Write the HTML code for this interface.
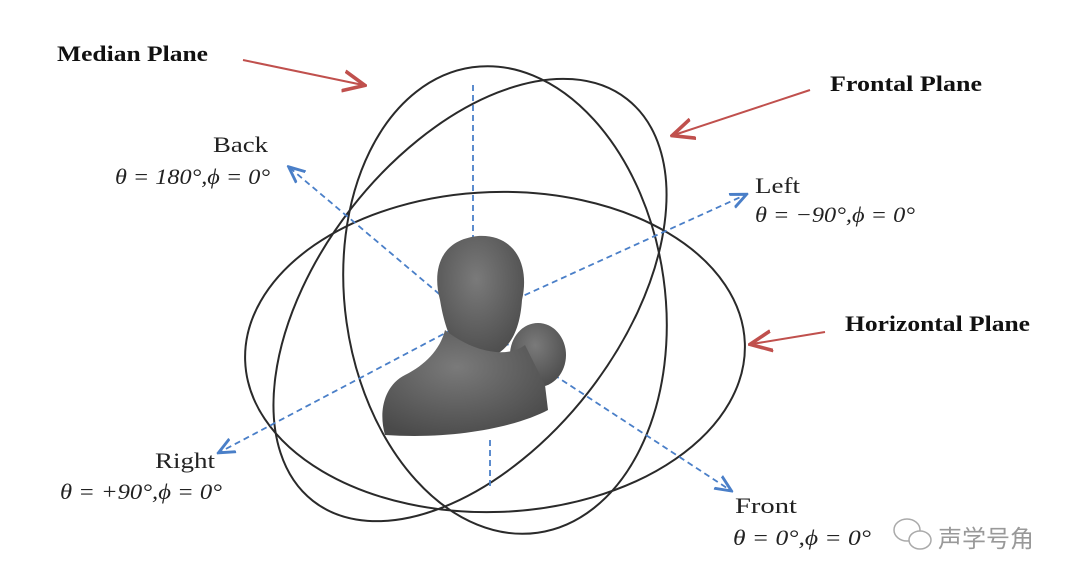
<!DOCTYPE html>
<html><head><meta charset="utf-8"><style>
body{margin:0;background:#fff;width:1080px;height:582px;overflow:hidden;}
svg{display:block}
text{font-family:"Liberation Serif",serif;}
</style></head><body>
<svg width="1080" height="582" viewBox="0 0 1080 582">
<defs>
<marker id="b" markerWidth="10" markerHeight="10" refX="8" refY="5" orient="auto"><path d="M0,1 L9,5 L0,9" fill="none" stroke="#4a7fc8" stroke-width="1.6"/></marker>
<marker id="r" markerWidth="12" markerHeight="12" refX="10" refY="6" orient="auto"><path d="M0,1 L11,6 L0,11" fill="none" stroke="#c0504d" stroke-width="1.8"/></marker>
<radialGradient id="g" cx="0.45" cy="0.35" r="0.7"><stop offset="0" stop-color="#7a7a7a"/><stop offset="1" stop-color="#4a4a4a"/></radialGradient>
</defs>
<g fill="none" stroke="#2a2a2a" stroke-width="2">
<ellipse cx="495" cy="352" rx="250" ry="160" transform="rotate(-2 495 352)"/>
<ellipse cx="505" cy="300" rx="160" ry="235" transform="rotate(-8 505 300)"/>
<ellipse cx="470" cy="300" rx="150" ry="255" transform="rotate(38 470 300)"/>
</g>
<g stroke="#4a7fc8" stroke-width="1.8" stroke-dasharray="6,4" fill="none">
<line x1="473" y1="85" x2="473" y2="240"/>
<line x1="490" y1="440" x2="490" y2="490"/>
<line x1="470" y1="320" x2="290" y2="168" marker-end="url(#b)"/>
<line x1="470" y1="320" x2="745" y2="195" marker-end="url(#b)"/>
<line x1="470" y1="320" x2="220" y2="452" marker-end="url(#b)"/>
<line x1="470" y1="320" x2="730" y2="490" marker-end="url(#b)"/>
</g>
<g fill="url(#g)">
<path d="M440,300 C432,270 440,240 478,236 C515,234 530,265 522,300 C520,330 510,355 480,360 C455,360 445,330 440,300Z"/>
<ellipse cx="538" cy="355" rx="28" ry="32"/>
<path d="M445,330 C470,350 505,360 525,345 L545,385 L548,410 C520,425 460,440 385,435 C378,410 385,385 405,375 C425,365 440,350 445,330Z"/>
</g>
<g stroke="#c0504d" stroke-width="2" fill="none">
<line x1="243" y1="60" x2="363" y2="85" marker-end="url(#r)"/>
<line x1="810" y1="90" x2="674" y2="135" marker-end="url(#r)"/>
<line x1="825" y1="332" x2="752" y2="344" marker-end="url(#r)"/>
</g>
<g font-weight="bold" font-size="22" fill="#111">
<text x="57" y="61" textLength="151" lengthAdjust="spacingAndGlyphs">Median Plane</text>
<text x="830" y="91" textLength="152" lengthAdjust="spacingAndGlyphs">Frontal Plane</text>
<text x="845" y="331" textLength="185" lengthAdjust="spacingAndGlyphs">Horizontal Plane</text>
</g>
<g font-size="22" fill="#222">
<text x="213" y="152" textLength="55" lengthAdjust="spacingAndGlyphs">Back</text>
<text x="115" y="184" font-style="italic" textLength="155" lengthAdjust="spacingAndGlyphs">θ = 180°,ϕ = 0°</text>
<text x="755" y="193" textLength="45" lengthAdjust="spacingAndGlyphs">Left</text>
<text x="755" y="222" font-style="italic" textLength="160" lengthAdjust="spacingAndGlyphs">θ = −90°,ϕ = 0°</text>
<text x="155" y="468" textLength="60" lengthAdjust="spacingAndGlyphs">Right</text>
<text x="60" y="499" font-style="italic" textLength="162" lengthAdjust="spacingAndGlyphs">θ = +90°,ϕ = 0°</text>
<text x="735" y="513" textLength="62" lengthAdjust="spacingAndGlyphs">Front</text>
<text x="733" y="545" font-style="italic" textLength="138" lengthAdjust="spacingAndGlyphs">θ = 0°,ϕ = 0°</text>
</g>
<g stroke="#aaa" stroke-width="1.5" fill="#fff">
<ellipse cx="907" cy="530" rx="13" ry="11"/>
<ellipse cx="920" cy="540" rx="11" ry="9"/>
</g>
<text x="938" y="547" font-size="24" fill="#999" style='font-family:"Noto Sans CJK SC",sans-serif'>声学号角</text>
</svg>
</body></html>
